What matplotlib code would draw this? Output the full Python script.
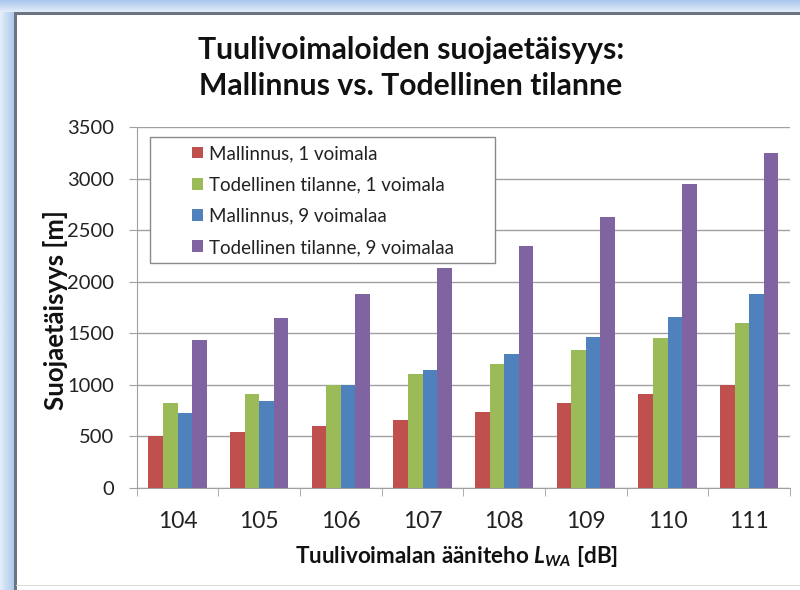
import matplotlib
matplotlib.use("Agg")
import matplotlib.pyplot as plt
import numpy as np
from matplotlib.patches import Rectangle

plt.rcParams['font.family'] = ['Lato', 'DejaVu Sans']
plt.rcParams['mathtext.fontset'] = 'custom'
plt.rcParams['mathtext.it'] = 'Lato:bold:italic'
plt.rcParams['mathtext.rm'] = 'Lato:bold'

categories = ['104', '105', '106', '107', '108', '109', '110', '111']
series_names = ['Mallinnus, 1 voimala', 'Todellinen tilanne, 1 voimala',
                'Mallinnus, 9 voimalaa', 'Todellinen tilanne, 9 voimalaa']
mallinnus_1 = [500, 540, 600, 660, 740, 820, 910, 1000]
todellinen_1 = [820, 910, 1000, 1100, 1200, 1340, 1450, 1600]
mallinnus_9 = [730, 840, 1000, 1140, 1300, 1460, 1660, 1880]
todellinen_9 = [1430, 1650, 1880, 2130, 2350, 2630, 2950, 3250]
yticks = [0, 500, 1000, 1500, 2000, 2500, 3000, 3500]
colors = ['#C0504D', '#9BBB59', '#4F81BD', '#8064A2']

W, H = 800, 590
fig = plt.figure(figsize=(W / 100, H / 100), dpi=100)
fig.patch.set_facecolor('white')


def fx(px):
    return px / W


def fy(py):
    return 1 - py / H


# window-like frame
grad_top = fig.add_axes([0, fy(12), 1, 12 / H])
g = np.linspace(0, 1, 12).reshape(-1, 1)
grad_top.imshow(g, aspect='auto',
                cmap=matplotlib.colors.LinearSegmentedColormap.from_list('b', ['#a9c7ec', '#e2ecf9']),
                extent=[0, 1, 0, 1])
grad_top.axis('off')
grad_left = fig.add_axes([0, 0, 14 / W, fy(12)])
g2 = np.linspace(0, 1, 14).reshape(1, -1)
grad_left.imshow(g2, aspect='auto',
                 cmap=matplotlib.colors.LinearSegmentedColormap.from_list('b2', ['#e4eefa', '#a9c7ec']),
                 extent=[0, 1, 0, 1])
grad_left.axis('off')
fig.patches.append(Rectangle((fx(14), 0), 2.5 / W, fy(12), transform=fig.transFigure,
                             facecolor='#6b7480', edgecolor='none'))
fig.patches.append(Rectangle((fx(14), fy(14.5)), 1 - 14 / W, 2.5 / H, transform=fig.transFigure,
                             facecolor='#6b7480', edgecolor='none'))
fig.patches.append(Rectangle((fx(16), fy(586)), 1 - 16 / W, 1.2 / H, transform=fig.transFigure,
                             facecolor='#dcdcdc', edgecolor='none'))

# plot axes
x0, x1 = 136.7, 790
ytop, ybot = 127.3, 487.7
ax = fig.add_axes([fx(x0), fy(ybot), (x1 - x0) / W, (ybot - ytop) / H])

x = np.arange(len(categories))
bw = 0.179
data = [mallinnus_1, todellinen_1, mallinnus_9, todellinen_9]
for i, (vals, name, c) in enumerate(zip(data, series_names, colors)):
    ax.bar(x + (i - 1.5) * bw, vals, width=bw, color=c, label=name, zorder=3)

ax.set_xlim(-0.5, len(categories) - 0.5)
ax.set_ylim(0, 3500)
ax.set_yticks(yticks)
ax.set_yticklabels([str(v) for v in yticks], fontsize=14.5, color='#222222')
ax.yaxis.grid(True, color='#a0a0a0', linewidth=1.0, zorder=0)
ax.set_axisbelow(True)
for s in ['top', 'right']:
    ax.spines[s].set_visible(False)
ax.spines['left'].set_color('#a0a0a0')
ax.spines['bottom'].set_color('#a0a0a0')
ax.tick_params(axis='y', length=6, color='#a0a0a0', pad=10)
ax.set_xticks(x)
ax.set_xticklabels(categories, fontsize=16.5, color='#222222')
ax.tick_params(axis='x', length=0, pad=17)
ax.set_xticks(np.arange(-0.5, len(categories), 1), minor=True)
ax.tick_params(axis='x', which='minor', length=6, color='#a0a0a0')

fig.text(fx(56), fy(310), 'Suojaetäisyys [m]', rotation=90, ha='center', va='center',
         fontsize=18.5, fontweight='bold', color='#111111')
fig.text(fx(457), fy(563), 'Tuulivoimalan ääniteho $L_{WA}$ [dB]', ha='center', va='baseline',
         fontsize=16.2, fontweight='bold', color='#111111')

fig.text(fx(411), fy(59), 'Tuulivoimaloiden suojaetäisyys:', ha='center', va='baseline',
         fontsize=21.7, fontweight='bold', color='#111111')
fig.text(fx(411), fy(95), 'Mallinnus vs. Todellinen tilanne', ha='center', va='baseline',
         fontsize=21.7, fontweight='bold', color='#111111')


# legend box
def axx(px):
    return (px - x0) / (x1 - x0)


def axy(py):
    return (ybot - py) / (ybot - ytop)


ax.add_patch(Rectangle((axx(150), axy(263)), axx(495) - axx(150), axy(137.3) - axy(263),
                       transform=ax.transAxes, facecolor='white', edgecolor='#8a8a8a',
                       linewidth=1.0, zorder=6))
leg = ax.legend(loc='center left', bbox_to_anchor=(axx(192), axy(200.5)),
                fontsize=13.5, frameon=False,
                handlelength=0.6, handleheight=0.6, handletextpad=0.33, borderpad=0,
                labelspacing=0.76, borderaxespad=0)
for t in leg.get_texts():
    t.set_color('#222222')
leg.set_zorder(7)

fig.savefig('out.png', dpi=100, facecolor='white')
